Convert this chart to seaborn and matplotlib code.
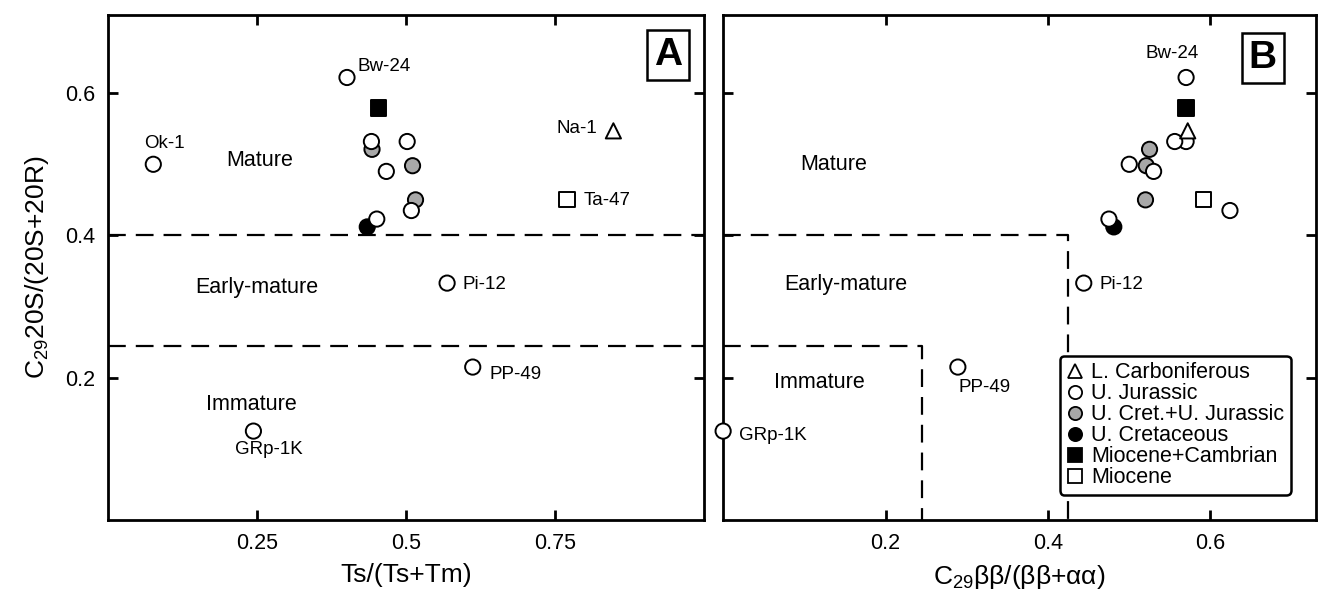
import matplotlib.pyplot as plt
import seaborn as sns
import pandas as pd
from matplotlib.lines import Line2D

# sample data
samples = ["", "", "", "", "", "Bw-24", "Ok-1", "", "", "", "", "",
           "Na-1", "Ta-47", "Pi-12", "PP-49", "GRp-1K"]
groups = ["U. Cret.+U. Jurassic", "U. Cret.+U. Jurassic", "U. Cret.+U. Jurassic",
          "U. Cretaceous", "Miocene+Cambrian",
          "U. Jurassic", "U. Jurassic", "U. Jurassic", "U. Jurassic", "U. Jurassic",
          "U. Jurassic", "U. Jurassic",
          "L. Carboniferous", "Miocene",
          "U. Jurassic", "U. Jurassic", "U. Jurassic"]
ts_tm = [0.443, 0.511, 0.516, 0.435, 0.454, 0.401, 0.076, 0.442, 0.502, 0.467,
         0.509, 0.451, 0.848, 0.770, 0.569, 0.612, 0.244]
c29_bb = [0.525, 0.521, 0.520, 0.481, 0.570, 0.570, 0.500, 0.570, 0.556, 0.530,
          0.624, 0.475, 0.572, 0.591, 0.444, 0.289, 0.0]
c29_20s = [0.521, 0.498, 0.450, 0.412, 0.579, 0.622, 0.500, 0.532, 0.532, 0.490,
           0.435, 0.423, 0.547, 0.451, 0.333, 0.215, 0.125]

group_order = ["L. Carboniferous", "U. Jurassic", "U. Cret.+U. Jurassic",
               "U. Cretaceous", "Miocene+Cambrian", "Miocene"]
fills = ["white", "white", "#a8a8a8", "black", "black", "white"]
shapes = ["^", "o", "o", "o", "s", "s"]

# maturity boundaries
mature_cut = 0.4
immature_cut = 0.245
bb_mature_cut = 0.424
bb_immature_cut = 0.245

df = pd.DataFrame({"sample": samples, "group": groups, "ts_tm": ts_tm,
                   "c29_bb": c29_bb, "c29_20s": c29_20s})

sns.set_style("ticks")
plt.rcParams['font.family'] = ['Liberation Sans', 'DejaVu Sans']
plt.rcParams['mathtext.fontset'] = 'custom'
plt.rcParams['mathtext.rm'] = 'Liberation Sans'
plt.rcParams['mathtext.it'] = 'Liberation Sans'
for k in ["text.color", "axes.labelcolor", "xtick.color", "ytick.color", "axes.edgecolor"]:
    plt.rcParams[k] = "black"

palette = dict(zip(group_order, fills))
markers = dict(zip(group_order, shapes))

fig = plt.figure(figsize=(13.22, 5.95), dpi=100)
axA = fig.add_axes([0.0817, 0.126, 0.4508, 0.849])
axB = fig.add_axes([0.547, 0.126, 0.4485, 0.849])

for ax, xcol in [(axA, "ts_tm"), (axB, "c29_bb")]:
    sns.scatterplot(data=df, x=xcol, y="c29_20s", hue="group", style="group",
                    hue_order=group_order, style_order=group_order,
                    palette=palette, markers=markers, s=120, edgecolor="black",
                    linewidth=1.4, legend=False, ax=ax, clip_on=False, zorder=3)
    ax.set_ylim(0, 0.71)
    ax.set_yticks([0.2, 0.4, 0.6])
    ax.set_yticklabels(["0.2", "0.4", "0.6"])
    ax.tick_params(direction="in", top=True, right=True, length=7, width=2,
                   labelsize=15.5, pad=9)
    for sp in ax.spines.values():
        sp.set_linewidth(2)
    ax.set_ylabel("")

dash = dict(color="black", lw=1.6, dashes=(8, 4.5))

# panel A
axA.set_xlim(0, 1.0)
axA.set_xticks([0.25, 0.5, 0.75])
axA.set_xticklabels(["0.25", "0.5", "0.75"])
axA.set_xlabel("Ts/(Ts+Tm)", fontsize=19, labelpad=7)
axA.set_ylabel("C$_{29}$20S/(20S+20R)", fontsize=19, labelpad=10)
axA.axhline(mature_cut, **dash)
axA.axhline(immature_cut, **dash)
axA.text(0.255, 0.505, "Mature", fontsize=15.5, ha="center", va="center")
axA.text(0.249, 0.327, "Early-mature", fontsize=15.5, ha="center", va="center")
axA.text(0.241, 0.162, "Immature", fontsize=15.5, ha="center", va="center")
axA.text(0.94, 0.92, "A", transform=axA.transAxes, fontsize=28, fontweight="bold",
         ha="center", va="center",
         bbox=dict(boxstyle="square,pad=0.18", fc="white", ec="black", lw=1.8))

offsets_a = {"Bw-24": (27, 8), "Ok-1": (8, 15), "Na-1": (-26, 2), "Ta-47": (29, -1),
             "Pi-12": (27, -1), "PP-49": (31, -5), "GRp-1K": (11, -13)}
for _, r in df.iterrows():
    if r["sample"] in offsets_a:
        axA.annotate(r["sample"], (r["ts_tm"], r["c29_20s"]), xytext=offsets_a[r["sample"]],
                     textcoords="offset points", fontsize=13.5, ha="center", va="center")

# panel B
axB.set_xlim(0, 0.73)
axB.set_xticks([0.2, 0.4, 0.6])
axB.set_xticklabels(["0.2", "0.4", "0.6"])
axB.tick_params(labelleft=False)
axB.set_xlabel("C$_{29}$ββ/(ββ+αα)", fontsize=19, labelpad=7)
axB.plot([0, bb_mature_cut, bb_mature_cut], [mature_cut, mature_cut, 0], **dash)
axB.plot([0, bb_immature_cut, bb_immature_cut], [immature_cut, immature_cut, 0], **dash)
axB.text(0.136, 0.499, "Mature", fontsize=15.5, ha="center", va="center")
axB.text(0.151, 0.331, "Early-mature", fontsize=15.5, ha="center", va="center")
axB.text(0.119, 0.194, "Immature", fontsize=15.5, ha="center", va="center")
axB.text(0.91, 0.915, "B", transform=axB.transAxes, fontsize=28, fontweight="bold",
         ha="center", va="center",
         bbox=dict(boxstyle="square,pad=0.18", fc="white", ec="black", lw=1.8))

offsets_b = {"Bw-24": (-10, 17), "Pi-12": (27, -1), "PP-49": (19, -15), "GRp-1K": (36, -3)}
for _, r in df.iterrows():
    if r["sample"] in offsets_b:
        axB.annotate(r["sample"], (r["c29_bb"], r["c29_20s"]), xytext=offsets_b[r["sample"]],
                     textcoords="offset points", fontsize=13.5, ha="center", va="center")

handles = [Line2D([], [], ls="none", marker=markers[g], markersize=9.5,
                  markerfacecolor=palette[g], markeredgecolor="black", markeredgewidth=1.3)
           for g in group_order]
leg = axB.legend(handles, group_order, loc="lower right", bbox_to_anchor=(0.957, 0.05),
                 fontsize=15.5, frameon=True, fancybox=True, labelspacing=0.0,
                 handlelength=0.8, handletextpad=0.35, borderpad=0.3, borderaxespad=0)
leg.get_frame().set_edgecolor("black")
leg.get_frame().set_linewidth(1.8)
leg.get_frame().set_alpha(1)

fig.savefig("out.png", dpi=100)
